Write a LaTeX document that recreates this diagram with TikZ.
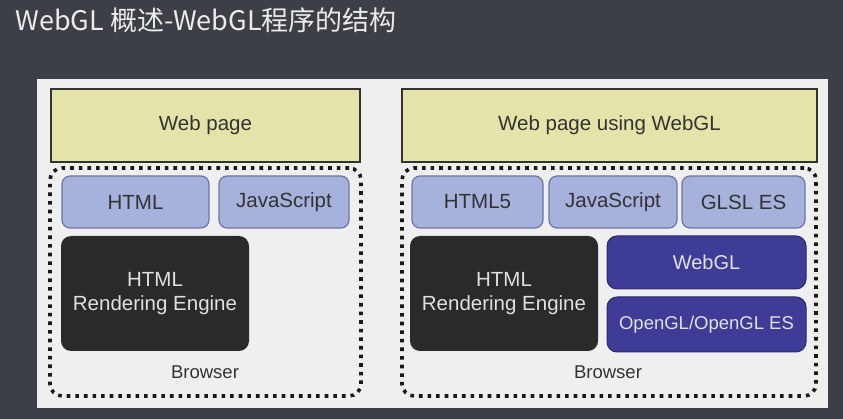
\documentclass[tikz,border=0pt]{standalone}
\usepackage{fontspec}
\setmainfont{Liberation Sans}
\newfontfamily\cjk{Noto Sans CJK SC}

\definecolor{board}{HTML}{3C3F45}
\definecolor{panel}{HTML}{EFEFEF}
\definecolor{pagefill}{HTML}{E4E3A9}
\definecolor{langfill}{HTML}{A6B1DC}
\definecolor{langline}{HTML}{6A76A6}
\definecolor{enginefill}{HTML}{2A2A2A}
\definecolor{glfill}{HTML}{3E3C97}
\definecolor{textdark}{HTML}{333333}

\tikzset{
  webpage/.style={draw=textdark, line width=1.6pt, fill=pagefill, inner sep=0pt,
    font=\fontsize{20.5}{24}\selectfont, text=textdark, minimum height=73pt},
  lang/.style={draw=langline, line width=1.2pt, fill=langfill, rounded corners=8pt,
    inner sep=0pt, font=\fontsize{20.5}{24}\selectfont, text=textdark, minimum height=52pt},
  engine/.style={fill=enginefill, rounded corners=10pt, inner sep=0pt, align=center,
    font=\fontsize{20.5}{24}\selectfont, text=white!88!black,
    minimum width=188pt, minimum height=115pt},
  gl/.style={draw=glfill!70!black, line width=1pt, fill=glfill, rounded corners=10pt,
    inner sep=0pt, text=white!88!black, minimum width=199pt},
  browser/.style={draw=black!90, line width=3.6pt, dash pattern=on 3.6pt off 5pt,
    rounded corners=12pt, inner sep=0pt},
  lbl/.style={font=\fontsize{18.5}{22}\selectfont, text=textdark}
}

\begin{document}
\begin{tikzpicture}[x=1pt,y=-1pt]
  \useasboundingbox (0,0) rectangle (843,419);
  \fill[board] (0,0) rectangle (843,419);
  \fill[panel] (37,79) rectangle (828,408);

  \node[anchor=west, text=white!92!black, font=\cjk\fontsize{27}{30}\selectfont]
    (title) at (12,20) {WebGL 概述-WebGL程序的结构};

  % left: plain web page
  \node[webpage, minimum width=309pt] (pageL) at (205.5,125.5) {Web page};
  \node[browser, minimum width=311pt, minimum height=228pt] (browserL) at (205.5,282) {};
  \node[lang, minimum width=147pt] (htmlL) at (135.5,202) {HTML};
  \node[lang, minimum width=130pt] (jsL) at (284,202) {JavaScript};
  \node[engine] (engineL) at (155,293.5) {HTML\\Rendering Engine};
  \node[lbl] (browserLbl) at (205,372) {Browser};

  % right: web page using WebGL
  \node[webpage, minimum width=415pt] (pageR) at (609.5,125.5) {Web page using WebGL};
  \node[browser, minimum width=414pt, minimum height=228pt] (browserR) at (609,282) {};
  \node[lang, minimum width=131pt] (html5) at (477.5,202) {HTML5};
  \node[lang, minimum width=128pt] (jsR) at (613,202) {JavaScript};
  \node[lang, minimum width=123pt] (glsl) at (743.5,202) {GLSL ES};
  \node[engine] (engineR) at (504,293.5) {HTML\\Rendering Engine};
  \node[gl, minimum height=53pt, font=\fontsize{20}{24}\selectfont] (webgl) at (706.5,262.5) {WebGL};
  \node[gl, minimum height=55pt, font=\fontsize{18.5}{22}\selectfont] (opengl) at (706.5,324.5) {OpenGL/OpenGL ES};
  \node[lbl] (browserRLbl) at (608,372) {Browser};
\end{tikzpicture}
\end{document}
